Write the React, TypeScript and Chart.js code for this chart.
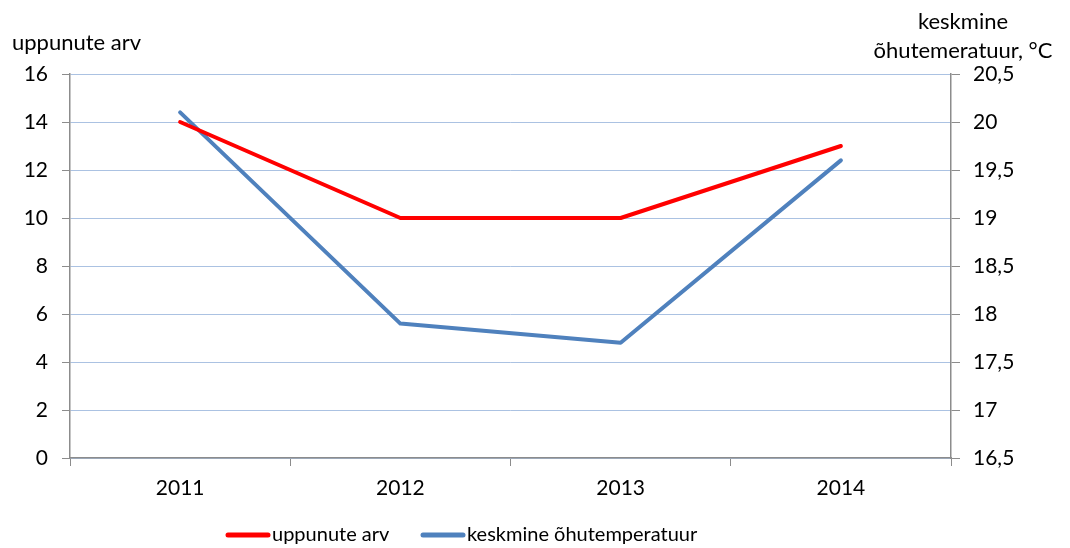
import React, { useEffect, useRef } from "react";
import { Chart, registerables } from "chart.js";

Chart.register(...registerables);

const categories = ["2011", "2012", "2013", "2014"];
const drownedCounts = [14, 10, 10, 13];
const avgAirTemp = [20.1, 17.9, 17.7, 19.6];
const leftTitle = "uppunute arv";
const rightTitleLines = ["keskmine", "õhutemeratuur, °C"];
const seriesNames = ["uppunute arv", "keskmine õhutemperatuur"];

const FONT = "Lato, 'Liberation Sans', sans-serif";
const RED = "#ff0000";
const BLUE = "#4f81bd";
const GRID = "#abc2e2";
const AXIS = "#8c8c8c";

const overlayPlugin = {
  id: "overlay",
  afterDraw(chart: any) {
    const ctx = chart.ctx;
    ctx.save();
    ctx.fillStyle = "#000";
    ctx.textBaseline = "middle";
    ctx.font = `22px ${FONT}`;
    ctx.textAlign = "left";
    ctx.fillText(leftTitle, 12, 43);
    ctx.textAlign = "center";
    ctx.fillText(rightTitleLines[0], 963, 22);
    ctx.fillText(rightTitleLines[1], 963, 51);

    // legend
    const y = 535;
    const items = [
      { x: 228, color: RED, text: seriesNames[0] },
      { x: 423, color: BLUE, text: seriesNames[1] },
    ];
    ctx.font = `20px ${FONT}`;
    ctx.textAlign = "left";
    items.forEach((it) => {
      ctx.strokeStyle = it.color;
      ctx.lineWidth = 5;
      ctx.lineCap = "round";
      ctx.beginPath();
      ctx.moveTo(it.x, y);
      ctx.lineTo(it.x + 40, y);
      ctx.stroke();
      ctx.fillStyle = "#000";
      ctx.fillText(it.text, it.x + 44, y);
    });
    ctx.restore();
  },
};

export default function App() {
  const ref = useRef<HTMLCanvasElement | null>(null);
  useEffect(() => {
    if (!ref.current) return;
    const chart = new Chart(ref.current, {
      type: "line",
      data: {
        labels: categories,
        datasets: [
          {
            label: seriesNames[0],
            data: drownedCounts,
            borderColor: RED,
            backgroundColor: RED,
            borderWidth: 4,
            pointRadius: 0,
            borderCapStyle: "round",
            borderJoinStyle: "round",
            yAxisID: "y",
            tension: 0,
          },
          {
            label: seriesNames[1],
            data: avgAirTemp,
            borderColor: BLUE,
            backgroundColor: BLUE,
            borderWidth: 4,
            pointRadius: 0,
            borderCapStyle: "round",
            borderJoinStyle: "round",
            yAxisID: "y1",
            tension: 0,
          },
        ],
      },
      options: {
        animation: false,
        responsive: false,
        layout: { padding: { top: 74, left: 0, right: 0, bottom: 0 } },
        plugins: { legend: { display: false }, tooltip: { enabled: false } },
        scales: {
          x: {
            offset: true,
            grid: {
              offset: true,
              drawOnChartArea: false,
              drawTicks: true,
              tickLength: 8,
              tickColor: AXIS,
            },
            border: { color: AXIS, width: 1.5 },
            ticks: { color: "#000", font: { family: FONT, size: 21 }, padding: 10 },
            afterFit: (s: any) => {
              s.height = 90;
            },
          },
          y: {
            position: "left",
            min: 0,
            max: 16,
            ticks: {
              stepSize: 2,
              color: "#000",
              font: { family: FONT, size: 21 },
              padding: 14,
            },
            grid: { color: GRID, lineWidth: 1, tickColor: AXIS, tickLength: 8 },
            border: { color: AXIS, width: 1.5 },
            afterFit: (s: any) => {
              s.width = 70;
            },
          },
          y1: {
            position: "right",
            min: 16.5,
            max: 20.5,
            ticks: {
              stepSize: 0.5,
              color: "#000",
              font: { family: FONT, size: 21 },
              padding: 13,
              callback: (v: any) => String(v).replace(".", ","),
            },
            grid: { drawOnChartArea: false, tickColor: AXIS, tickLength: 9 },
            border: { color: AXIS, width: 1.5 },
            afterFit: (s: any) => {
              s.width = 119;
            },
          },
        },
      },
      plugins: [overlayPlugin],
    } as any);
    return () => chart.destroy();
  }, []);
  return (
    <div style={{ position: "absolute", left: 0, top: 0, width: 1070, height: 548, background: "#fff" }}>
      <canvas ref={ref} width={1070} height={548} style={{ width: 1070, height: 548 }} />
    </div>
  );
}
